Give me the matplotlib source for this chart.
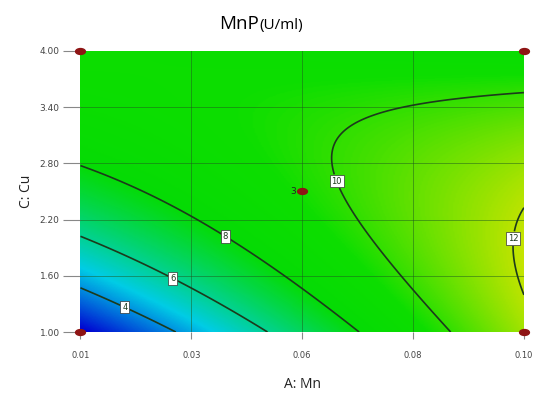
import numpy as np
import matplotlib
matplotlib.use("Agg")
import matplotlib.pyplot as plt
from matplotlib.colors import LinearSegmentedColormap, Normalize
from matplotlib.path import Path
from matplotlib.transforms import Affine2D

# quadratic model in coded units (a = Mn, c = Cu)
b0, bA, bC, bAC, bAA, bCC = 9.606, 2.244, 1.152, -2.596, 0.006, -1.697

mn_range = [0.01, 0.10]
cu_range = [1.00, 4.00]
x_ticklabels = ["0.01", "0.03", "0.06", "0.08", "0.10"]
y_ticklabels = ["1.00", "1.60", "2.20", "2.80", "3.40", "4.00"]
levels = [4, 6, 8, 10, 12]
label_pos = [(0.0193, 1.30), (0.0291, 1.61), (0.0393, 2.01), (0.0615, 2.60), (0.0974, 2.00)]
design_mn = [0.01, 0.10, 0.01, 0.10, 0.055]
design_cu = [4.00, 4.00, 1.00, 1.00, 2.50]

mn = np.linspace(mn_range[0], mn_range[1], 300)
cu = np.linspace(cu_range[0], cu_range[1], 300)
MN, CU = np.meshgrid(mn, cu)
a = (MN - 0.055) / 0.045
c = (CU - 2.5) / 1.5
Z = b0 + bA*a + bC*c + bAC*a*c + bAA*a**2 + bCC*c**2

# Design-Expert style blue-cyan-green-yellow-red
cmap = LinearSegmentedColormap.from_list("de", [
    (0.0, (0.0, 0.0, 0.82)),
    (0.2, (0.0, 0.80, 0.90)),
    (0.43, (0.02, 0.86, 0.02)),
    (0.535, (0.05, 0.87, 0.0)),
    (0.76, (0.90, 0.90, 0.0)),
    (1.0, (0.90, 0.0, 0.0))])
norm = Normalize(2.0, 16.0)

fig = plt.figure(figsize=(5.33, 4.01), dpi=100)
ax = fig.add_axes([0.151, 0.172, 0.832, 0.701])
ax.imshow(Z, extent=[mn_range[0], mn_range[1], cu_range[0], cu_range[1]],
          origin="lower", aspect="auto", cmap=cmap, norm=norm, interpolation="bilinear")

xt = np.linspace(mn_range[0], mn_range[1], 5)
yt = np.linspace(cu_range[0], cu_range[1], 6)
for x in xt[1:-1]:
    ax.axvline(x, color="#1e5a1e", lw=0.7, alpha=0.5)
for y in yt[1:-1]:
    ax.axhline(y, color="#1e5a1e", lw=0.7, alpha=0.5)

cs = ax.contour(MN, CU, Z, levels=levels, colors="#1c3a1c", linewidths=1.2)
lbls = ax.clabel(cs, fmt="%d", fontsize=6, inline=True, inline_spacing=2, manual=label_pos)
for t in lbls:
    t.set_rotation(0)
    t.set_bbox(dict(boxstyle="square,pad=0.2", fc="white", ec="#333333", lw=0.5))

ell = Path.unit_circle().transformed(Affine2D().scale(1.0, 0.6))
ax.scatter(design_mn, design_cu, marker=ell, s=50, color="#8e1414", zorder=5, clip_on=False)
ax.text(design_mn[4] - 0.0012, design_cu[4], "3", fontsize=6.5, color="#222222",
        ha="right", va="center", zorder=6)

ax.set_xlim(mn_range)
ax.set_ylim(cu_range)
ax.set_xticks(xt)
ax.set_xticklabels(x_ticklabels)
ax.set_yticks(yt)
ax.set_yticklabels(y_ticklabels)
ax.tick_params(axis="x", length=5, width=0.8, color="#888888", labelsize=6,
               labelcolor="#444444", pad=9)
ax.tick_params(axis="y", length=12, width=0.8, color="#888888", labelsize=6.5,
               labelcolor="#444444", pad=3)
for s in ax.spines.values():
    s.set_visible(False)

ax.set_xlabel("A: Mn", fontsize=10, family="Open Sans", color="#222222", labelpad=12)
ax.set_ylabel("C: Cu", fontsize=10, family="Open Sans", color="#222222", labelpad=4)

fig.text(0.486, 0.928, "MnP", fontsize=13.5, family="Open Sans", ha="right", va="baseline")
fig.text(0.486, 0.928, "(U/ml)", fontsize=11, family="Open Sans", ha="left", va="baseline")

fig.savefig("out.png", dpi=100)
